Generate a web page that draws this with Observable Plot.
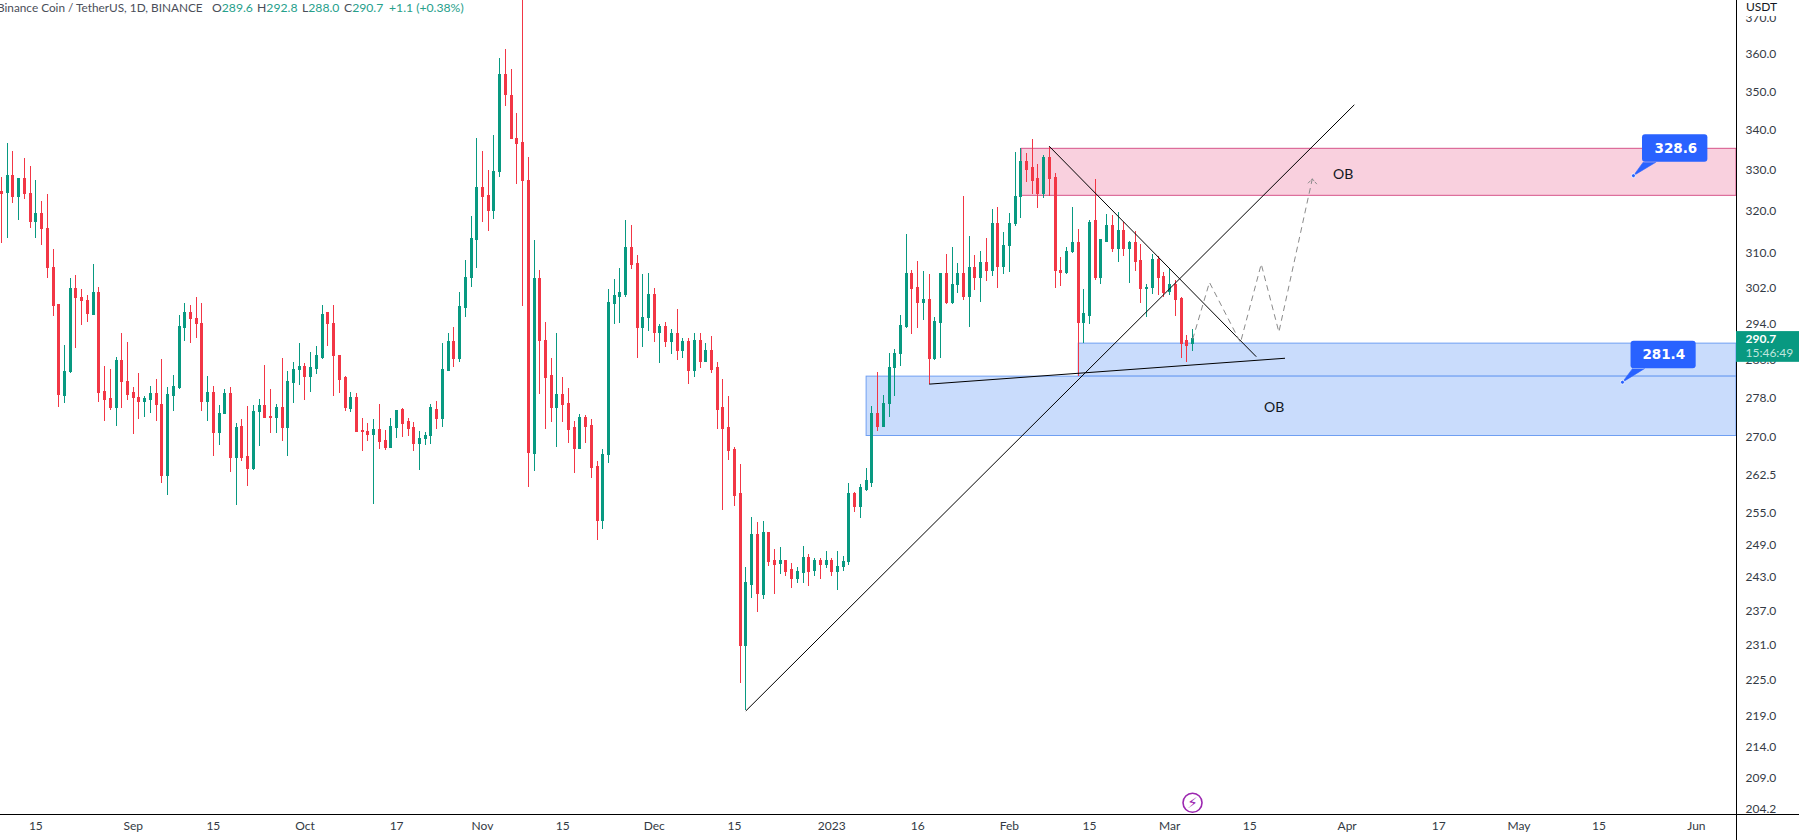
<!doctype html>
<html><head><meta charset="utf-8">
<script src="https://cdn.jsdelivr.net/npm/d3@7"></script>
<script src="https://cdn.jsdelivr.net/npm/@observablehq/plot@0.6"></script>
<style>
html,body{margin:0;padding:0;background:#fff;overflow:hidden}
#wrap{position:relative;width:1799px;height:840px;font-family:Lato,sans-serif}
#legend{position:absolute;left:0;top:0;width:480px;height:18px;font-size:12.2px;line-height:16px;color:#4a4e59;white-space:pre}
#legend span{position:absolute;top:0}
#legend span:first-child{font-size:11.8px}
#legend b{font-weight:400;color:#26a08b}
#unit{position:absolute;left:1738px;top:0;width:61px;height:16px;background:#fff;font-size:12px;line-height:14px;color:#131722;padding-left:8px;box-sizing:border-box}
</style></head><body>
<div id="wrap"><div id="chart"></div>
<div id="legend"><span style="left:-3px">Binance Coin / TetherUS, 1D, BINANCE</span><span style="left:212px">O<b>289.6</b></span><span style="left:257px">H<b>292.8</b></span><span style="left:302px">L<b>288.0</b></span><span style="left:344px">C<b>290.7</b></span><span style="left:389px"><b>+1.1 (+0.38%)</b></span></div>
<div id="unit">USDT</div></div>
<script>
const firstDay = Date.UTC(2022, 7, 9);
const opens = [
324.7,324.3,328.6,323.3,327.9,324.2,317.3,319.4,315.8,306.7,298.1,278.6,283.5,301.9,299.8,299.1,296.0,301.0,279.4,277.8,276.1,285.8,281.5,279.2,278.1,277.2,277.6,279.0,
276.7,262.2,278.6,280.2,293.0,296.5,295.1,294.0,277.2,279.2,270.8,274.7,279.0,265.9,272.0,266.1,263.7,275.1,276.5,274.1,274.0,275.9,272.0,281.3,283.9,284.7,282.6,284.2,
286.6,296.3,294.0,286.9,282.2,275.9,278.1,271.3,271.1,270.5,271.5,269.3,267.9,272.0,275.6,273.0,271.8,268.7,269.7,270.2,275.6,273.8,283.8,290.1,286.4,297.6,304.2,313.2,
325.7,323.7,319.9,329.4,354.5,349.0,337.7,336.9,327.4,266.7,304.0,290.3,282.8,276.1,278.7,276.9,271.8,267.6,274.0,272.3,264.1,253.6,266.5,298.5,299.9,300.5,311.3,307.6,
293.2,295.2,300.5,291.9,293.2,290.1,291.7,288.1,290.1,283.8,290.3,285.8,288.1,284.3,275.9,271.9,267.5,258.8,230.9,241.7,250.9,239.9,251.3,246.1,245.5,246.1,244.4,242.8,
243.8,246.5,244.2,246.1,245.3,246.1,244.0,245.0,245.9,258.8,256.3,259.6,261.0,274.8,272.2,276.9,284.5,287.5,293.4,305.1,302.1,298.7,299.2,286.4,294.3,305.1,298.7,302.8,
305.1,299.9,306.7,304.4,307.8,305.8,317.0,306.9,311.8,316.8,323.3,332.1,330.4,327.7,324.0,333.1,328.1,306.0,305.5,310.2,312.5,294.1,295.8,317.5,304.2,312.7,316.5,311.1,
315.3,311.1,312.5,308.3,301.9,302.1,308.5,304.6,301.2,302.6,299.6,290.3,289.6];
const highs = [
328.1,336.6,334.6,327.9,332.9,330.9,327.4,322.2,324.0,310.8,298.1,289.2,304.2,304.8,301.7,300.3,307.4,302.1,284.7,284.0,286.6,291.9,289.9,280.2,283.2,278.5,280.4,281.9,
286.2,280.2,282.8,295.8,298.5,298.1,299.8,298.5,282.6,280.4,276.5,279.8,280.2,272.8,273.6,276.3,276.5,277.8,284.9,279.8,276.7,286.4,283.6,285.6,289.6,285.3,287.7,289.0,
298.1,296.3,298.1,286.9,282.6,279.2,279.0,273.8,272.8,273.6,276.7,271.3,273.8,275.5,275.9,273.8,273.1,271.1,270.9,276.7,277.3,289.6,291.9,293.2,301.0,308.3,318.7,337.9,
334.6,329.9,338.7,358.8,361.3,355.9,344.3,394.4,333.2,313.0,306.0,294.2,286.4,291.9,282.4,280.0,273.3,274.6,274.4,273.6,265.1,267.6,301.7,303.9,306.5,317.7,316.5,309.4,
305.1,305.3,301.9,293.8,294.3,292.7,297.2,290.8,290.8,291.9,291.9,289.7,291.2,285.6,281.9,278.3,267.9,264.5,244.8,254.3,253.2,253.4,251.3,248.1,248.5,246.1,245.5,244.8,
248.7,247.2,246.6,246.5,247.8,246.5,247.8,246.8,260.8,259.0,260.6,263.7,276.3,283.4,278.6,287.5,288.4,295.8,314.4,306.0,308.1,305.8,305.1,295.4,305.3,309.7,311.3,307.6,
323.5,313.9,309.5,310.4,313.4,320.4,320.8,314.9,319.4,334.4,335.4,334.1,337.7,331.4,333.6,335.6,329.1,309.0,311.3,320.8,315.6,301.7,317.7,327.7,313.0,319.2,318.9,319.6,
317.2,312.7,315.1,312.0,302.8,309.7,309.2,305.5,306.2,303.7,299.9,291.4,292.8];
const lows = [
312.3,313.5,321.8,317.8,322.8,315.8,313.5,311.9,304.3,295.7,276.1,277.0,283.2,288.6,293.6,294.3,295.8,277.2,273.2,275.5,272.2,275.9,277.6,270.6,273.6,274.0,274.9,273.2,
260.8,258.5,275.3,279.9,290.2,289.7,290.8,275.3,273.2,266.2,268.3,274.7,263.0,256.5,265.1,260.2,263.4,268.2,274.0,270.8,270.8,269.1,266.2,277.0,280.6,277.6,279.2,283.1,
286.2,289.1,278.4,279.0,275.3,275.1,271.1,267.2,269.1,256.7,267.6,267.4,267.8,269.8,270.0,270.2,267.2,263.4,268.3,268.5,271.6,272.0,283.8,284.5,285.6,295.4,302.2,306.5,
317.3,315.2,318.0,328.2,346.2,337.7,326.5,297.9,260.0,263.2,278.8,271.6,273.0,268.0,273.0,268.7,262.8,267.6,268.7,261.8,249.9,252.0,264.8,293.9,294.1,299.9,306.2,286.5,
288.8,292.3,289.9,285.4,288.8,287.3,286.0,286.5,280.9,282.3,284.3,285.6,283.2,271.6,255.6,265.3,256.3,224.5,219.9,239.3,236.7,239.0,245.0,239.9,243.5,243.2,241.1,241.9,
241.9,241.3,243.2,242.6,244.6,243.2,240.6,244.2,245.3,255.1,254.0,259.2,260.0,271.1,273.0,274.0,278.4,284.7,293.0,291.6,293.0,294.7,281.0,286.0,286.4,298.3,298.3,300.8,
299.2,293.2,301.4,298.7,303.5,304.6,301.9,305.1,305.5,316.3,318.2,326.9,324.0,320.6,323.0,323.5,301.9,302.3,305.1,309.9,282.6,289.7,293.8,303.7,302.8,312.7,310.2,307.8,
309.2,303.0,305.8,298.5,295.4,300.5,300.3,299.9,300.3,295.6,286.4,285.6,288.0];
const closes = [
324.1,328.6,323.3,327.9,324.1,317.3,319.4,315.8,306.5,297.9,278.8,283.6,301.9,299.7,299.0,296.1,301.0,279.2,277.6,276.1,285.8,281.4,278.8,278.0,277.2,277.8,279.0,276.6,
262.2,278.7,280.4,293.2,296.5,295.0,293.9,277.2,279.2,270.8,274.8,279.0,265.9,271.8,265.9,263.7,275.2,276.5,274.0,274.0,275.9,272.0,281.5,284.0,284.7,282.6,284.5,286.9,
296.0,293.9,286.9,281.9,276.1,278.1,271.1,271.1,270.5,271.5,269.1,267.9,272.0,275.4,272.8,271.8,268.7,269.7,270.3,275.9,273.8,284.0,290.1,286.4,297.8,304.3,313.4,325.7,
323.5,319.9,329.4,354.5,349.0,337.7,336.6,327.2,266.9,304.0,290.2,282.4,276.1,278.7,276.7,271.5,267.6,274.0,272.2,263.9,253.6,266.5,298.7,300.1,300.8,311.3,307.2,293.2,
295.4,300.5,291.9,293.2,290.1,291.7,288.1,290.1,283.8,290.3,285.8,288.1,284.1,275.7,271.8,267.3,258.4,230.9,241.9,250.8,240.0,251.3,245.9,245.3,246.1,244.0,242.8,244.0,
246.5,244.0,246.1,245.3,246.1,244.0,245.0,245.9,258.8,256.3,259.8,261.2,274.8,272.2,276.9,284.5,287.5,293.6,305.1,301.9,298.7,299.2,286.4,294.5,305.1,298.7,302.8,305.1,
299.9,306.7,304.4,307.8,305.8,317.0,306.9,311.8,317.0,323.5,332.1,330.1,327.4,324.0,332.9,327.9,305.8,305.5,310.4,312.5,294.1,296.1,317.2,304.2,313.0,316.5,311.1,315.3,
311.1,312.3,308.1,301.9,302.1,308.5,304.2,301.0,302.6,299.4,289.7,289.2,290.7];

const priceTicks = [370,360,350,340,330,320,310,302,294,286,278,270,262.5,255,249,243,237,231,225,219,214,209,204.2];
const timeTickDates = ["2022-08-15","2022-09-01","2022-09-15","2022-10-01","2022-10-17","2022-11-01","2022-11-15","2022-12-01","2022-12-15","2023-01-01","2023-01-16","2023-02-01","2023-02-15","2023-03-01","2023-03-15","2023-04-01","2023-04-17","2023-05-01","2023-05-15","2023-06-01"];
const timeTickLabels = ["15","Sep","15","Oct","17","Nov","15","Dec","15","2023","16","Feb","15","Mar","15","Apr","17","May","15","Jun"];

const xStart = new Date("2022-08-08T19:48Z"), xEnd = new Date("2023-06-08T00:00Z");
const yMin = 203.4, yMax = 374.8;
const T = s => new Date("20" + s + ":00Z");

const candles = opens.map((o, i) => ({date: new Date(firstDay + i * 864e5), o, h: highs[i], l: lows[i], c: closes[i], col: closes[i] >= o ? "#089981" : "#f23645"}));
const zones = [
  {x: T("23-02-03T04"), top: 335.3, bottom: 323.67, fill: "#f9d0de", stroke: "#d6548a"},
  {x: T("23-02-13T03"), top: 289.67, bottom: 282.58, fill: "#c9dcfc", stroke: "#6f9ff2"},
  {x: T("23-01-07T02"), top: 282.58, bottom: 270.26, fill: "#c9dcfc", stroke: "#6f9ff2"}
];
const trendLines = [
  [[T("22-12-17T01"), 219.9], [T("23-04-02T05"), 346.5]],
  [[T("23-02-08T00"), 335.9], [T("23-03-16T02"), 286.9]],
  [[T("23-01-18T02"), 281.0], [T("23-03-21T02"), 286.5]]
];
const forecast = [[T("23-03-05T01"),290.7],[T("23-03-07T23"),303.3],[T("23-03-13T09"),289.9],[T("23-03-17T00"),307.5],[T("23-03-20T02"),292.2],[T("23-03-25T22"),327.8]];
const arrowHead = [[T("23-03-25T05"),326.8],[T("23-03-25T22"),327.8],[T("23-03-26T16"),326.6]];
const callouts = [
  {label:"328.6", x1:T("23-05-22T14"), x2:T("23-06-03T00"), top:338.85, bottom:331.94, mid:T("23-05-28T10"), midY:335.3, tip:[T("23-05-21T00"),328.6], base:[T("23-05-22T17"),T("23-05-24T22")]},
  {label:"281.4", x1:T("23-05-20T14"), x2:T("23-05-31T23"), top:290.17, bottom:284.28, mid:T("23-05-26T07"), midY:287.2, tip:[T("23-05-19T02"),281.4], base:[T("23-05-20T20"),T("23-05-22T22")]}
];
const tickLookup = new Map(timeTickDates.map((d, i) => [+new Date(d), timeTickLabels[i]]));
const lineMark = (pts, o) => Plot.line(pts, {x: d => d[0], y: d => d[1], ...o});

const chart = Plot.plot({
  width: 1799, height: 840,
  marginTop: 0, marginLeft: 0, marginRight: 63, marginBottom: 26,
  style: {fontFamily: 'Lato,sans-serif', fontSize: "12px", background: "#fff", color: "#131722"},
  x: {type: "utc", domain: [xStart, xEnd]},
  y: {type: "log", domain: [yMin, yMax]},
  marks: [
    Plot.axisY({anchor: "right", ticks: priceTicks, tickSize: 0, tickPadding: 9, tickFormat: d => d.toFixed(1), label: null, fill:"#333a44"}),
    Plot.axisX({ticks: timeTickDates.map(d => new Date(d)), tickSize: 0, tickPadding: 7, tickFormat: d => tickLookup.get(+d), label: null, fill:"#333a44"}),
    Plot.rect(zones, {x1: "x", x2: () => xEnd, y1: "bottom", y2: "top", fill: "fill", stroke: "stroke", strokeWidth: 1}),
    Plot.ruleX(candles, {x: "date", y1: "l", y2: "h", stroke: "col", strokeWidth: 1, clip: "frame", shapeRendering: "crispEdges"}),
    Plot.ruleX(candles, {x: "date", y1: d => Math.min(d.o, d.c) - 0.12, y2: d => Math.max(d.o, d.c) + 0.12, stroke: "col", strokeWidth: 3, clip: "frame", shapeRendering: "crispEdges"}),
    ...trendLines.map(l => lineMark(l, {stroke: "#000", strokeWidth: 1})),
    lineMark(forecast, {stroke: "#8a8a8a", strokeWidth: 1, strokeDasharray: "5,5"}),
    lineMark(arrowHead, {stroke: "#8a8a8a", strokeWidth: 1, strokeDasharray: "3,2"}),
    Plot.text([[T("23-03-31T07"),328.82],[T("23-03-19T06"),276.14]], {x: d => d[0], y: d => d[1], text: () => "OB", fontSize: 14, fill: "#131722"}),
    ...callouts.map(c => lineMark([[c.base[0],c.bottom],c.tip,[c.base[1],c.bottom]], {stroke: "#2962ff", fill: "#2962ff", strokeWidth: 0.6})),
    Plot.rect(callouts, {x1: "x1", x2: "x2", y1: "bottom", y2: "top", fill: "#2962ff", rx: 3}),
    Plot.dot(callouts, {x: d => d.tip[0], y: d => d.tip[1], r: 2, fill: "#2962ff", stroke: "#fff", strokeWidth: 0.8}),
    Plot.text(callouts, {x: "mid", y: "midY", text: "label", fill: "#fff", fontWeight: 700, fontSize: 13.5, fontFamily: '"DejaVu Sans",sans-serif'}),
    Plot.ruleX([xEnd], {stroke: "#000", insetBottom: -26}),
    Plot.ruleY([yMin], {stroke: "#000", insetRight: -63}),
    Plot.rect([0], {x1: () => xEnd, x2: () => xEnd, y1: () => 285.63, y2: () => 292.3, fill: "#089981", insetRight: -63}),
    Plot.text(["290.7"], {x: () => xEnd, y: () => 290.6, text: d => d, dx: 9, textAnchor: "start", fill: "#fff", fontWeight: 700, fontSize: 12}),
    Plot.text(["15:46:49"], {x: () => xEnd, y: () => 287.5, text: d => d, dx: 9, textAnchor: "start", fill: "#bfe6dd", fontSize: 12}),
    Plot.dot([0], {x: () => T("23-03-05T00"), y: () => 205.2, r: 9.5, fill: "#fff", stroke: "#9c27b0", strokeWidth: 1.6}),
    Plot.text(["\u26A1\uFE0E"], {x: () => T("23-03-05T00"), y: () => 205.2, text: d => d, fill: "#9c27b0", fontSize: 15, fontFamily: '"DejaVu Sans",sans-serif'})
  ]
});
document.getElementById("chart").appendChild(chart);
</script></body></html>
